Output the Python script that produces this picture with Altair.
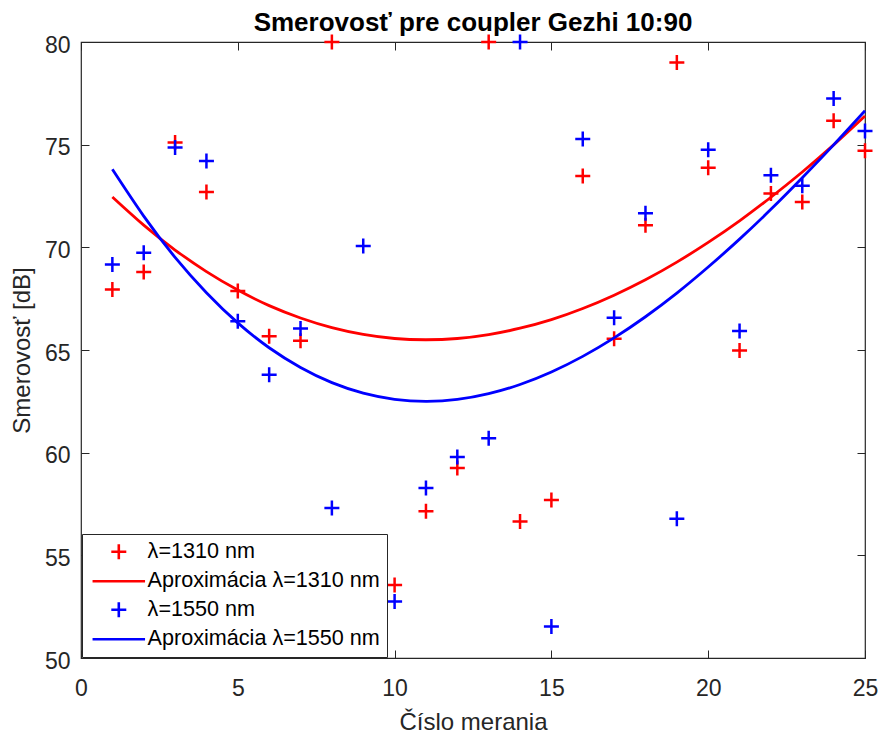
import altair as alt
import pandas as pd

# ---- data ----
x_1310 = [1, 2, 3, 4, 5, 6, 7, 8, 10, 11, 12, 13, 14, 15, 16, 17, 18, 19, 20, 21, 22, 23, 24, 25]
y_1310 = [67.95, 68.8, 75.1, 72.7, 67.87, 65.67, 65.45, 80.0, 53.56, 57.15, 59.25, 80.0, 56.65,
          57.7, 73.48, 65.55, 71.07, 79.0, 73.88, 64.98, 72.62, 72.21, 76.16, 74.7]

x_1550 = list(range(1, 26))
y_1550 = [69.17, 69.74, 74.86, 74.2, 66.4, 63.8, 66.05, 57.3, 70.06, 52.75, 58.28, 59.79, 60.7,
          80.0, 51.53, 75.27, 66.57, 71.66, 56.78, 74.75, 65.92, 73.51, 73.0, 77.25, 75.67]

# fitted curves
x_fit = list(range(1, 26))
fit_1310 = [72.45, 71.08, 69.87, 68.82, 67.92, 67.16, 66.56, 66.09, 65.76, 65.56, 65.50, 65.56, 65.75,
            66.06, 66.48, 67.02, 67.67, 68.42, 69.28, 70.24, 71.29, 72.44, 73.67, 74.99, 76.40]
fit_1550 = [73.80, 71.52, 69.51, 67.79, 66.32, 65.11, 64.15, 63.41, 62.90, 62.60, 62.50, 62.59, 62.87,
            63.32, 63.93, 64.69, 65.59, 66.62, 67.77, 69.04, 70.40, 71.85, 73.39, 74.99, 76.65]

series_names = ["λ=1310 nm", "Aproximácia λ=1310 nm", "λ=1550 nm", "Aproximácia λ=1550 nm"]
series_colors = ["#ff0000", "#ff0000", "#0000ff", "#0000ff"]
x_ticks = [0, 5, 10, 15, 20, 25]
y_ticks = [50, 55, 60, 65, 70, 75, 80]

PLUS = "M-1,0L1,0M0,-1L0,1"
DASH = "M-3.5,0L3.5,0"
series_shapes = [PLUS, DASH, PLUS, DASH]

pts = pd.concat([
    pd.DataFrame({"x": x_1310, "y": y_1310, "series": series_names[0], "o": 0}),
    pd.DataFrame({"x": x_1550, "y": y_1550, "series": series_names[2], "o": 1}),
], ignore_index=True)

fits = pd.concat([
    pd.DataFrame({"x": x_fit, "y": fit_1310, "series": series_names[1], "o": 0}),
    pd.DataFrame({"x": x_fit, "y": fit_1550, "series": series_names[3], "o": 1}),
], ignore_index=True)

FONT = "Liberation Sans"
AX = "#262626"

xscale = alt.Scale(domain=[0, 25], nice=False, zero=False)
yscale = alt.Scale(domain=[50, 80], nice=False, zero=False)
cscale = alt.Scale(domain=series_names, range=series_colors)
sscale = alt.Scale(domain=series_names, range=series_shapes)

points = alt.Chart(pts).mark_point(filled=False, size=225, strokeWidth=2.5, opacity=1).encode(
    x=alt.X("x:Q", scale=xscale, title="Číslo merania",
            axis=alt.Axis(orient="bottom", values=x_ticks, offset=-8, tickSize=8, domain=False,
                          grid=False, labelPadding=19, titlePadding=10, format="d",
                          labelFlush=False)),
    y=alt.Y("y:Q", scale=yscale, title="Smerovosť [dB]",
            axis=alt.Axis(orient="left", values=y_ticks, offset=-8, tickSize=8, domain=False,
                          grid=False, labelPadding=11, titlePadding=10, format="d",
                          labelFlush=False, labelOffset=3)),
    color=alt.Color("series:N", scale=cscale, title=None,
                    legend=alt.Legend(orient="none", legendX=1, legendY=492, direction="vertical",
                                      fillColor="white", strokeColor=AX, padding=7,
                                      symbolSize=225, symbolStrokeWidth=2.6, symbolOffset=19,
                                      labelOffset=18, rowPadding=4.5, labelFontSize=21.6, labelLimit=500,
                                      labelFont=FONT, labelColor="black", symbolFillColor="transparent")),
    shape=alt.Shape("series:N", scale=sscale, title=None),
    order=alt.Order("o:Q"),
)

lines = alt.Chart(fits).mark_line(strokeWidth=2.8, interpolate="natural").encode(
    x=alt.X("x:Q", scale=xscale, title=None,
            axis=alt.Axis(orient="top", values=x_ticks, offset=-8, tickSize=8, domain=False,
                          grid=False, labels=False)),
    y=alt.Y("y:Q", scale=yscale, title=None,
            axis=alt.Axis(orient="right", values=y_ticks, offset=-8, tickSize=8, domain=False,
                          grid=False, labels=False)),
    color=alt.Color("series:N", scale=cscale, legend=None),
    detail="series:N",
)

chart = alt.layer(points, lines).resolve_axis(x="independent", y="independent").properties(
    width=784, height=616,
    background="white",
    title=alt.TitleParams("Smerovosť pre coupler Gezhi 10:90", font=FONT, fontSize=26,
                          fontWeight="bold", color="black", anchor="middle", offset=-6,
                          frame="group"),
    autosize=alt.AutoSizeParams(type="none"),
    padding={"left": 81, "top": 42, "right": 15, "bottom": 75},
).configure_view(stroke=AX, strokeWidth=1.2).configure_axis(
    tickColor=AX, tickWidth=1, labelColor=AX, labelFont=FONT, labelFontSize=23,
    titleFont=FONT, titleFontSize=24, titleColor=AX, titleFontWeight="normal",
)

chart.save("out.html", embed_options={"renderer": "svg", "actions": False})
